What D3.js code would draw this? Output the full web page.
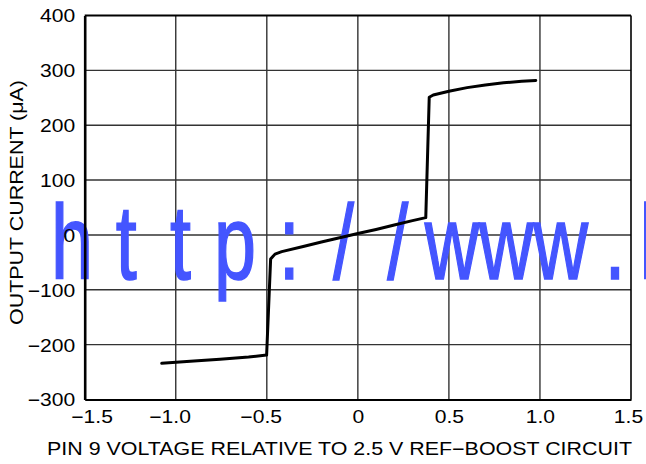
<!DOCTYPE html>
<html><head><meta charset="utf-8">
<script src="https://cdn.jsdelivr.net/npm/d3@7"></script>
<style>html,body{margin:0;padding:0;background:#fff;}svg{display:block;}</style>
</head><body>
<svg id="c" width="646" height="464"></svg>
<script>
const xTicks = [-1.5, -1.0, -0.5, 0, 0.5, 1.0, 1.5];
const xTickLabels = ["\u22121.5", "\u22121.0", "\u22120.5", "0", "0.5", "1.0", "1.5"];
const yTicks = [-300, -200, -100, 0, 100, 200, 300, 400];
const yTickLabels = ["\u2212300", "\u2212200", "\u2212100", "0", "100", "200", "300", "400"];
const voltage = [-1.077, -0.9, -0.757, -0.6, -0.501, -0.479, -0.455, -0.418, -0.3, -0.2, -0.1, 0, 0.1, 0.2, 0.3, 0.373, 0.392, 0.414, 0.5, 0.6, 0.7, 0.8, 0.9, 0.977];
const current = [-234, -230, -226.5, -222.5, -219, -44, -35, -30.5, -21, -13, -5, 2.5, 10, 18, 26, 31.5, 251, 255, 262, 268.5, 273.5, 277.3, 280, 281.5];
const xTitle = "PIN 9 VOLTAGE RELATIVE TO 2.5 V REF\u2212BOOST CIRCUIT";
const yTitle = "OUTPUT CURRENT (\u03bcA)";
const watermark = "http://www.l";

const svg = d3.select("#c");
const L = 84.7, R = 631, T = 15.5, B = 399.5;
const x = d3.scaleLinear().domain([-1.5, 1.5]).range([L, R]);
const y = d3.scaleLinear().domain([-300, 400]).range([B, T]);
const font = "'Liberation Sans', Arial, sans-serif";
const FS = 18, K = 1.17;

function measure(str) {
  const t = svg.append("text").attr("font-family", font).attr("font-size", FS).text(str);
  const w = t.node().getComputedTextLength();
  t.remove();
  return w;
}
function stretch(sel, k) {
  sel.each(function () {
    const w = this.getComputedTextLength();
    d3.select(this).attr("textLength", w * k).attr("lengthAdjust", "spacingAndGlyphs");
  });
}

// grid
const grid = svg.append("g");
grid.selectAll("line.vx").data(xTicks.slice(1, -1)).join("line")
  .attr("x1", d => x(d)).attr("x2", d => x(d)).attr("y1", T).attr("y2", B)
  .attr("stroke", "#333").attr("stroke-width", 1.4);
grid.selectAll("line.hy").data(yTicks.slice(1, -1)).join("line")
  .attr("y1", d => y(d)).attr("y2", d => y(d)).attr("x1", L).attr("x2", R)
  .attr("stroke", "#333").attr("stroke-width", 1.4);

// watermark
const sx = 0.72;
const wm = svg.append("text")
  .attr("transform", `scale(${sx},1)`)
  .attr("font-family", font).attr("font-size", 105)
  .attr("fill", "#4455ff").attr("stroke", "#4455ff").attr("stroke-width", 1.6)
  .attr("text-anchor", "middle");
wm.selectAll("tspan").data(watermark.split("")).join("tspan")
  .attr("x", (d, i) => (i === 11 ? 648 : 72 + 54.3 * i) / sx)
  .attr("y", 279.5)
  .text(d => d);

// frame
svg.append("line").attr("x1", L).attr("x2", R).attr("y1", T).attr("y2", T).attr("stroke", "#000").attr("stroke-width", 2);
svg.append("line").attr("x1", R).attr("x2", R).attr("y1", T).attr("y2", B).attr("stroke", "#000").attr("stroke-width", 1.6);

// axes
const xAxis = d3.axisBottom(x).tickValues(xTicks).tickFormat((d, i) => xTickLabels[i]).tickSize(0).tickPadding(0);
const gx = svg.append("g").attr("transform", `translate(0,${B})`).call(xAxis);
gx.select(".domain").attr("stroke", "#000").attr("stroke-width", 2.2);
gx.selectAll("text").attr("font-family", font).attr("font-size", FS).attr("fill", "#000")
  .attr("dy", null).attr("y", 23.5);
stretch(gx.selectAll("text"), K);
gx.selectAll("text").each(function (d, i) {
  const full = xTickLabels[i];
  const num = full.replace("\u2212", "");
  const wf = measure(full) * K, wn = measure(num) * K;
  let shift = 0;
  if (i === 0) shift = 13;
  if (i === xTicks.length - 1) shift = -3;
  d3.select(this).attr("text-anchor", "start").attr("x", -wn / 2 - (wf - wn) + shift);
});

const yAxis = d3.axisLeft(y).tickValues(yTicks).tickFormat((d, i) => yTickLabels[i]).tickSize(0).tickPadding(9.5);
const gy = svg.append("g").attr("transform", `translate(${L},0)`).call(yAxis);
gy.select(".domain").attr("stroke", "#000").attr("stroke-width", 2.6);
gy.selectAll("text").attr("font-family", font).attr("font-size", FS).attr("fill", "#000").attr("dy", "0.36em");
stretch(gy.selectAll("text"), K);

// curve
const line = d3.line().x((d, i) => x(voltage[i])).y((d, i) => y(current[i]));
svg.append("path").datum(voltage).attr("d", line)
  .attr("fill", "none").attr("stroke", "#000").attr("stroke-width", 3)
  .attr("stroke-linejoin", "round").attr("stroke-linecap", "round");

// titles
svg.append("text").attr("x", (47 + 632) / 2).attr("y", 455)
  .attr("text-anchor", "middle").attr("font-family", font).attr("font-size", FS)
  .attr("textLength", 585).attr("lengthAdjust", "spacingAndGlyphs")
  .attr("fill", "#000").text(xTitle);
svg.append("text").attr("transform", "translate(23,202.5) rotate(-90)")
  .attr("text-anchor", "middle").attr("font-family", font).attr("font-size", FS)
  .attr("textLength", 245).attr("lengthAdjust", "spacingAndGlyphs")
  .attr("fill", "#000").text(yTitle);
</script>
</body></html>
